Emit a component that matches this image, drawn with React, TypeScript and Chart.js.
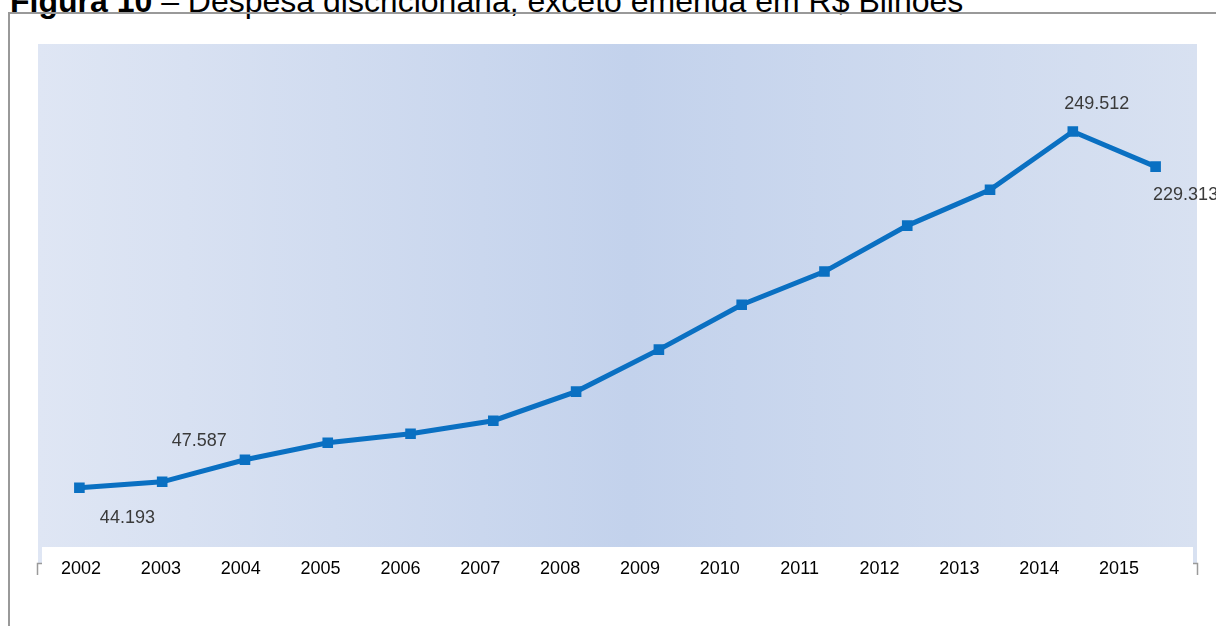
import React, { useEffect, useRef } from "react";
import { Chart, registerables } from "chart.js";

Chart.register(...registerables);

const years = ["2002", "2003", "2004", "2005", "2006", "2007", "2008", "2009", "2010", "2011", "2012", "2013", "2014", "2015"];
const tickYears = [2002, 2003, 2004, 2005, 2006, 2007, 2008, 2009, 2010, 2011, 2012, 2013, 2014, 2015];
const despesa = [44.193, 47.587, 60.3, 70.1, 75.3, 82.8, 99.6, 123.8, 149.7, 168.8, 195.3, 216.0, 249.512, 229.313];
// which points carry a value label, and where the label sits relative to the point
const labelledPoints = [
  { index: 0, dx: 48, dy: 30 },
  { index: 1, dx: 37, dy: -41 },
  { index: 12, dx: 24, dy: -28 },
  { index: 13, dx: 30, dy: 28 },
];

const FONT = "'Liberation Sans', Arial, Helvetica, sans-serif";

const backgroundPlugin = {
  id: "bgGradient",
  beforeDraw(chart: any) {
    const { ctx, chartArea } = chart;
    const { left, top, right, bottom } = chartArea;
    ctx.save();
    const g = ctx.createLinearGradient(left, 0, right, 0);
    g.addColorStop(0, "#dfe6f4");
    g.addColorStop(0.51, "#c3d2ec");
    g.addColorStop(1, "#d8e1f1");
    ctx.fillStyle = g;
    ctx.fillRect(left, top, right - left, bottom - top);
    ctx.fillRect(left, bottom, 4, 16);
    ctx.fillRect(right - 4, bottom, 4, 16);
    // small corner brackets
    ctx.strokeStyle = "#9a9a9a";
    ctx.lineWidth = 1.5;
    ctx.beginPath();
    ctx.moveTo(left - 0.5, bottom + 28);
    ctx.lineTo(left - 0.5, bottom + 16.5);
    ctx.lineTo(left + 4, bottom + 16.5);
    ctx.moveTo(right - 4, bottom + 16.5);
    ctx.lineTo(right + 0.5, bottom + 16.5);
    ctx.lineTo(right + 0.5, bottom + 28);
    ctx.stroke();
    ctx.restore();
  },
};

const valueLabelPlugin = {
  id: "valueLabels",
  afterDatasetsDraw(chart: any) {
    const { ctx } = chart;
    const meta = chart.getDatasetMeta(0);
    ctx.save();
    ctx.font = `18px ${FONT}`;
    ctx.fillStyle = "#3a3a3a";
    ctx.textAlign = "center";
    ctx.textBaseline = "middle";
    labelledPoints.forEach((lp) => {
      const pt = meta.data[lp.index];
      if (!pt) return;
      const v = despesa[lp.index];
      ctx.fillText(v.toFixed(3), pt.x + lp.dx, pt.y + lp.dy);
    });
    ctx.restore();
  },
};

export default function App() {
  const canvasRef = useRef<HTMLCanvasElement | null>(null);

  useEffect(() => {
    const canvas = canvasRef.current;
    if (!canvas) return;
    const chart = new Chart(canvas, {
      type: "line",
      data: {
        labels: years,
        datasets: [
          {
            data: despesa,
            borderColor: "#0a70c2",
            backgroundColor: "#0a70c2",
            borderWidth: 5,
            pointStyle: "rect",
            pointRadius: 7.5,
            pointBorderWidth: 0,
            pointBackgroundColor: "#0a70c2",
            tension: 0,
            xAxisID: "x",
            yAxisID: "y",
          },
        ],
      },
      options: {
        responsive: false,
        animation: false,
        devicePixelRatio: 1,
        layout: { padding: { left: 38, top: 44, right: 19, bottom: 0 } },
        plugins: {
          legend: { display: false },
          tooltip: { enabled: false },
          title: { display: false },
        },
        scales: {
          x: { type: "category", offset: true, display: false },
          y: { type: "linear", min: 10, max: 300, display: false },
          x2: {
            type: "linear",
            position: "bottom",
            min: 2001.461,
            max: 2015.976,
            grid: { display: false },
            border: { display: false },
            afterBuildTicks: (scale: any) => {
              scale.ticks = tickYears.map((v) => ({ value: v }));
            },
            afterFit: (scale: any) => {
              scale.height = 79;
            },
            ticks: {
              autoSkip: false,
              maxRotation: 0,
              color: "#000000",
              padding: 3,
              font: { size: 18, family: FONT },
              callback: (v: any) => String(v),
            },
          },
        },
      } as any,
      plugins: [backgroundPlugin, valueLabelPlugin],
    });
    return () => chart.destroy();
  }, []);

  return (
    <div
      style={{
        position: "fixed",
        left: 0,
        top: 0,
        width: 1216,
        height: 626,
        background: "#ffffff",
        overflow: "hidden",
        fontFamily: FONT,
      }}
    >
      <div
        style={{
          position: "absolute",
          left: 10,
          top: -15,
          fontSize: 32,
          lineHeight: "32px",
          whiteSpace: "nowrap",
          color: "#000",
        }}
      >
        <b>Figura 10</b> – Despesa discricionária, exceto emenda em R$ Bilhões
      </div>
      <div
        style={{
          position: "absolute",
          left: 8,
          top: 12,
          width: 1400,
          height: 800,
          borderLeft: "2px solid #999999",
          borderTop: "2px solid #999999",
        }}
      />
      <canvas
        ref={canvasRef}
        width={1216}
        height={626}
        style={{ position: "absolute", left: 0, top: 0, width: 1216, height: 626 }}
      />
    </div>
  );
}
